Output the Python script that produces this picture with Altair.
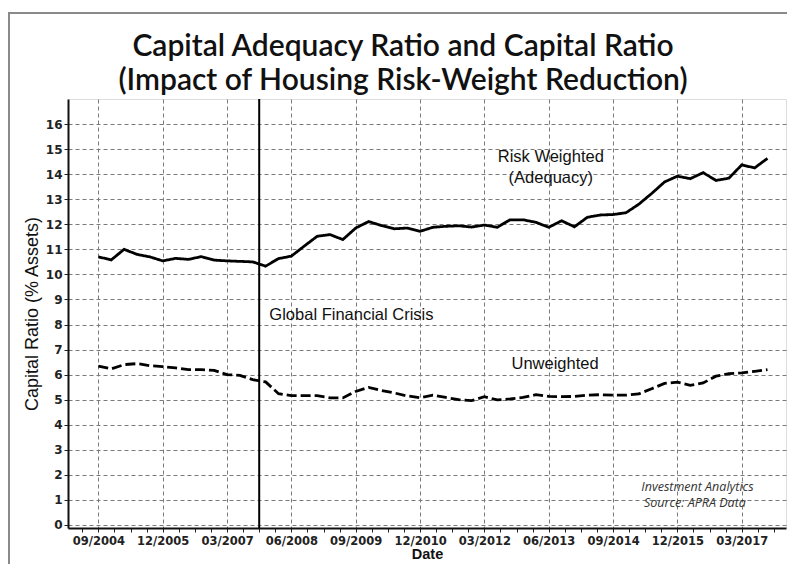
import altair as alt
import pandas as pd

# ---- data (quarterly, 09/2004 .. 09/2017) ----
quarter_index = list(range(53))
risk_weighted = [10.70, 10.58, 11.00, 10.80, 10.70, 10.54, 10.64, 10.60, 10.71, 10.57,
                 10.54, 10.52, 10.50, 10.33, 10.63, 10.73, 11.13, 11.52, 11.59, 11.39,
                 11.85, 12.11, 11.95, 11.82, 11.85, 11.72, 11.88, 11.92, 11.94, 11.89,
                 11.97, 11.88, 12.18, 12.18, 12.08, 11.88, 12.14, 11.90, 12.28, 12.37,
                 12.39, 12.46, 12.80, 13.23, 13.69, 13.92, 13.82, 14.06, 13.75, 13.84,
                 14.37, 14.25, 14.63]
unweighted = [6.34, 6.23, 6.40, 6.44, 6.36, 6.32, 6.27, 6.20, 6.20, 6.17,
              6.00, 5.97, 5.80, 5.71, 5.24, 5.16, 5.16, 5.16, 5.07, 5.07,
              5.33, 5.49, 5.37, 5.27, 5.15, 5.08, 5.18, 5.09, 5.00, 4.96,
              5.12, 4.99, 5.03, 5.09, 5.20, 5.13, 5.12, 5.13, 5.18, 5.20,
              5.18, 5.18, 5.23, 5.44, 5.65, 5.70, 5.57, 5.67, 5.94, 6.04,
              6.07, 6.13, 6.20]
tick_labels = ["09/2004", "12/2005", "03/2007", "06/2008", "09/2009", "12/2010",
               "03/2012", "06/2013", "09/2014", "12/2015", "03/2017"]
gfc_quarter = [12.5]

# annotations (data coordinates)
ann_center_text = ["Risk Weighted", "(Adequacy)", "Unweighted"]
ann_center_q = [35.16, 35.16, 35.49]
ann_center_v = [14.69, 13.86, 6.41]
gfc_text = ["Global Financial Crisis"]
gfc_text_q = [13.29]
gfc_text_v = [8.37]
src_text = ["Investment Analytics", "Source: APRA Data"]
src_q = [46.56, 46.36]
src_v = [1.52, 0.89]

df = pd.DataFrame({"q": quarter_index, "Risk Weighted": risk_weighted, "Unweighted": unweighted})
long = df.melt("q", var_name="series", value_name="v")

tick_values = [-1.25 + 1.25 * k for k in range(44)]
is_major = "abs(datum.value/5 - round(datum.value/5)) < 0.001 && datum.value >= 0 && datum.value <= 50"
arr = "[" + ",".join("'%s'" % t for t in tick_labels) + "]"
label_expr = "(%s) ? %s[round(datum.value/5)] : ''" % (is_major, arr)

x_enc = alt.X("q:Q",
              scale=alt.Scale(domain=[-2.36, 53.44], nice=False, zero=False),
              axis=alt.Axis(values=tick_values, labelExpr=label_expr, title="Date",
                            grid=True,
                            gridOpacity={"condition": {"test": is_major, "value": 1}, "value": 0},
                            gridDash=[4, 3], gridColor="#7a7a7a", gridWidth=1,
                            tickSize=4, tickColor="#222", labelPadding=3,
                            labelFont="DejaVu Sans", labelFontWeight="bold", labelFontSize=11.5,
                            labelColor="#222", labelOverlap=False, labelFlush=False,
                            titleFont="Liberation Sans", titleFontWeight="bold", titleFontSize=14.5,
                            titleColor="#111", titlePadding=1,
                            domainColor="#111", domainWidth=2))
y_enc = alt.Y("v:Q",
              scale=alt.Scale(domain=[-0.12, 17], nice=False, zero=False),
              axis=alt.Axis(values=list(range(17)), title="Capital Ratio (% Assets)",
                            grid=True, gridDash=[4, 3], gridColor="#7a7a7a", gridWidth=1,
                            tickSize=4, tickColor="#222", labelPadding=2,
                            labelFont="DejaVu Sans", labelFontWeight="bold", labelFontSize=12,
                            labelColor="#222",
                            titleFont="Liberation Sans", titleFontWeight="normal", titleFontSize=18,
                            titleColor="#111", titlePadding=4,
                            domainColor="#111", domainWidth=2))

one = alt.Data(values=[{"a": 1}])
frame_top = alt.Chart(one).mark_rule(color="#8a8a8a", strokeWidth=2).encode(
    x=alt.value(-60), x2=alt.value(1200), y=alt.value(-86))
frame_left = alt.Chart(one).mark_rule(color="#8a8a8a", strokeWidth=2).encode(
    x=alt.value(-59), y=alt.value(-87), y2=alt.value(1200))

lines = alt.Chart(long).mark_line(color="black", strokeWidth=2.8).encode(
    x=x_enc, y=y_enc,
    strokeDash=alt.StrokeDash("series:N",
                              scale=alt.Scale(domain=["Risk Weighted", "Unweighted"],
                                              range=[[1, 0], [10, 4]]),
                              legend=None),
    detail="series:N",
)

gfc = alt.Chart(pd.DataFrame({"q": gfc_quarter})).mark_rule(color="black", strokeWidth=2).encode(
    x=x_enc
)

center_txt = alt.Chart(pd.DataFrame({"q": ann_center_q, "v": ann_center_v, "t": ann_center_text})).mark_text(
    font="Liberation Sans", fontSize=16.5, color="#111", align="center", baseline="middle"
).encode(x=x_enc, y=y_enc, text="t:N")

gfc_txt = alt.Chart(pd.DataFrame({"q": gfc_text_q, "v": gfc_text_v, "t": gfc_text})).mark_text(
    font="Liberation Sans", fontSize=16.5, color="#111", align="left", baseline="middle"
).encode(x=x_enc, y=y_enc, text="t:N")

src_txt = alt.Chart(pd.DataFrame({"q": src_q, "v": src_v, "t": src_text})).mark_text(
    font="Open Sans", fontSize=12.5, fontStyle="italic", color="#333", align="center", baseline="middle"
).encode(x=x_enc, y=y_enc, text="t:N")

chart = alt.layer(frame_top, frame_left, lines, gfc, center_txt, gfc_txt, src_txt).properties(
    width=718, height=429,
    autosize=alt.AutoSizeParams(type="none"),
    padding={"left": 60, "top": 91, "right": 1, "bottom": 36},
    title=alt.TitleParams(
        text=["Capital Adequacy Ratio and Capital Ratio",
              "(Impact of Housing Risk-Weight Reduction)"],
        font="Lato", fontSize=30, fontWeight=600, color="#111",
        lineHeight=34, baseline="bottom", anchor="middle", frame="group",
        offset=-114.7, dx=-24,
    ),
).configure_view(stroke="#111", strokeWidth=1.5).configure(background="white")

chart.save("out.html", embed_options={"renderer": "svg", "actions": False})
